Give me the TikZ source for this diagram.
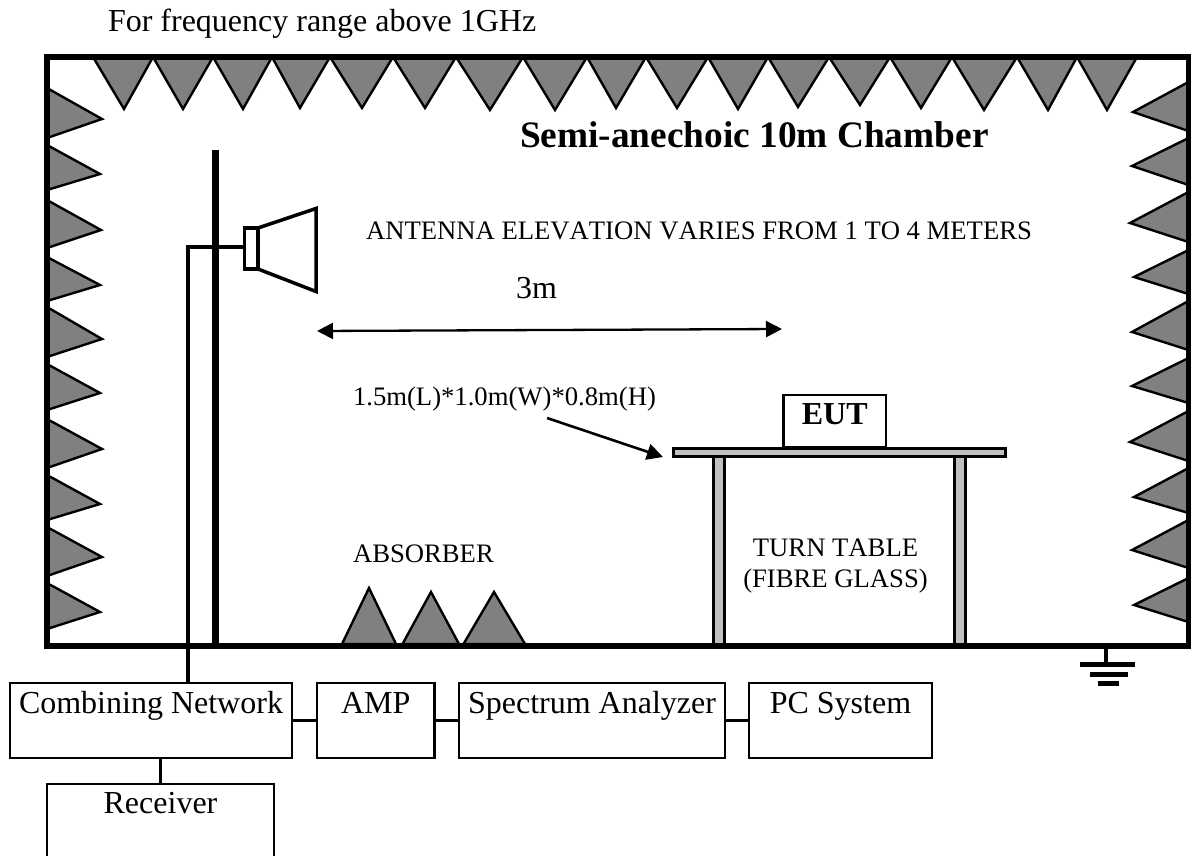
\documentclass[tikz,border=0pt]{standalone}
\usepackage{fontspec}
\setmainfont[Kerning=Off]{Liberation Serif}
\usetikzlibrary{arrows.meta}
\definecolor{wedge}{HTML}{808080}
\definecolor{tablegray}{HTML}{C0C0C0}
\newcommand{\fs}[1]{\fontsize{#1}{#1}\selectfont}
\tikzset{
  x=1pt,y=-1pt,
  wedgeshape/.style={fill=wedge,draw=black,line width=2.4pt,line join=miter},
  box/.style={draw=black,line width=2.6pt,anchor=north west,inner sep=0pt,outer sep=0pt,align=center,font=\fs{32}},
  wire/.style={draw=black,line width=2.5pt},
  lab/.style={anchor=base west,inner sep=0pt,outer sep=0pt,font=\fs{26.67}},
  glass/.style={fill=tablegray,draw=black,line width=3pt},
  bigarrow/.style={draw=black,line width=2.6pt,-{Triangle[length=16pt,width=16pt]}},
  dblarrow/.style={draw=black,line width=2.3pt,{Triangle[length=16pt,width=16pt]}-{Triangle[length=16pt,width=16pt]}},
}
\begin{document}
\begin{tikzpicture}
\useasboundingbox (0,0) rectangle (1194,856);
\clip (0,0) rectangle (1194,856);
\fill[white] (0,0) rectangle (1194,856);
% ceiling wedges
\foreach \a/\t/\b/\d in {93/124/153/109,153/183/213/109,213/243/272/109,272/300/330/108,330/362/393/108,393/425/456/108,456/490/523/110,523/555/587/110,587/616/646/108,646/677/708/108,708/738/768/109,768/798/829/107,829/860/890/105,890/921/952/108,952/984/1017/110,1017/1048/1077/110,1077/1107/1137/110}
  \draw[wedgeshape] (\a,57) -- (\t,\d) -- (\b,57) -- cycle;
% left wedges
\foreach \a/\t/\x/\b in {88/119/102/138,145/174/100/190,200/230/101/248,257/285/100/301,307/339/102/357,364/393/100/410,419/449/102/468,475/504/100/520,527/557/102/576,583/612/100/629}
  \draw[wedgeshape] (47,\a) -- (\x,\t) -- (47,\b) -- cycle;
% right wedges
\foreach \a/\t/\x/\b in {82/112/1133/131,138/166/1132/185,192/223/1130/242,250/277/1134/294,301/332/1132/350,358/386/1132/403,411/442/1130/461,468/497/1134/513,520/550/1132/568,578/605/1134/622}
  \draw[wedgeshape] (1188.5,\a) -- (\x,\t) -- (1188.5,\b) -- cycle;
% floor wedges
\draw[wedgeshape] (342,644) -- (369,588) -- (396,644) -- cycle;
\draw[wedgeshape] (402.5,644) -- (431,592) -- (459,644) -- cycle;
\draw[wedgeshape] (463.5,644) -- (494,592) -- (525,644) -- cycle;
% table
\draw[glass] (713.8,456) rectangle (724.2,646);
\draw[glass] (954.8,456) rectangle (965.2,646);
\draw[glass] (673.8,448.3) rectangle (1005.8,456.6);
% chamber
\draw[line width=5.5pt,line join=miter] (47,57) rectangle (1188.5,646);
% mast and horn
\draw[line width=7.5pt] (215.5,150) -- (215.5,646);
\node[draw=black,line width=3.5pt,minimum width=13.5pt,minimum height=41pt,inner sep=0pt,outer sep=0pt,anchor=north west] (feed) at (244.5,228) {};
\draw[line width=3.5pt,line join=miter] (feed.north east) -- (316,208.5) -- (316,291.5) -- (feed.south east);
% boxes
\node[box,minimum width=282pt,text height=30pt,text depth=45pt] (cn) at (10,683) {Combining Network};
\node[box,minimum width=117.5pt,text height=30pt,text depth=45pt] (amp) at (317,683) {AMP};
\node[box,minimum width=266pt,text height=30pt,text depth=45pt] (sa) at (459,683) {Spectrum Analyzer};
\node[box,minimum width=183pt,text height=30pt,text depth=45pt] (pc) at (749,683) {PC System};
\node[box,minimum width=227pt,text height=29pt,text depth=71pt] (rx) at (47,784) {Receiver};
\node[box,minimum width=102.5pt,text height=29pt,text depth=23pt,font=\fs{32}\bfseries] (eut) at (783.5,395) {EUT};
% connectors
\draw[wire] (cn.east) -- (amp.west);
\draw[wire] (amp.east) -- (sa.west);
\draw[wire] (sa.east) -- (pc.west);
\draw[wire] (rx.north) -- (rx.north |- cn.south);
\coordinate (cablebend) at (188,247);
\draw[line width=3.6pt,line join=miter] (feed.west |- cablebend) -- (cablebend) -- (cablebend |- cn.north);
% ground
\coordinate (gnd) at (1106,646);
\draw[line width=4.5pt] (gnd) -- (1106,664);
\draw[line width=5pt] (1080,664) -- (1135,664);
\draw[line width=5pt] (1090,674) -- (1128,674);
\draw[line width=5pt] (1098,683) -- (1119,683);
% arrows
\coordinate (dl) at (317,331);
\coordinate (dr) at (782,329);
\draw[dblarrow] (dl) -- (dr);
\coordinate (as) at (547,418);
\coordinate (ae) at (663,457);
\draw[bigarrow] (as) -- (ae);
% texts
\node[lab,font=\fs{32}] (t1) at (108,32) {For frequency range above 1GHz};
\node[lab,font=\fs{37.33}\bfseries] (t2) at (520,147) {Semi-anechoic 10m Chamber};
\node[lab] (t3) at (366,239) {ANTENNA ELEVATION VARIES FROM 1 TO 4 METERS};
\node[lab,font=\fs{32}] (t4) at (516,298) {3m};
\node[lab] (t5) at (353,405) {1.5m(L)*1.0m(W)*0.8m(H)};
\node[lab] (t6) at (353,562) {ABSORBER};
\node[lab,anchor=base] (t7) at (835.5,556) {TURN TABLE};
\node[lab,anchor=base] (t8) at (835.5,587) {(FIBRE GLASS)};
\end{tikzpicture}
\end{document}
